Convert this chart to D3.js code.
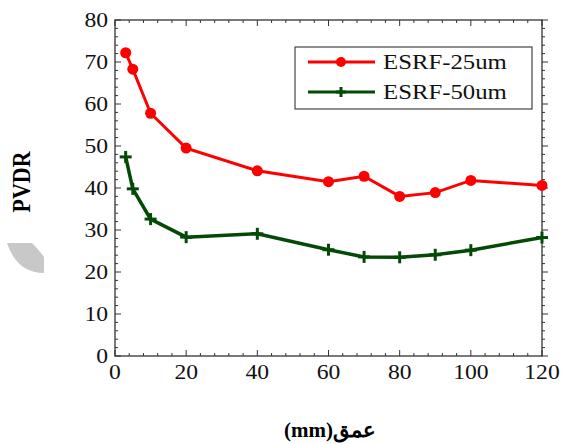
<!DOCTYPE html>
<html><head><meta charset="utf-8">
<script src="https://cdn.jsdelivr.net/npm/d3@7"></script>
<style>body{margin:0;background:#fff}</style>
</head><body>
<script>
const depths = [3, 5, 10, 20, 40, 60, 70, 80, 90, 100, 120];
const esrf25 = [72.2, 68.3, 57.8, 49.5, 44.1, 41.5, 42.8, 38.0, 38.9, 41.8, 40.6];
const esrf50 = [47.4, 39.8, 32.6, 28.3, 29.1, 25.3, 23.6, 23.5, 24.1, 25.2, 28.2];
const xTicks = [0, 20, 40, 60, 80, 100, 120];
const yTicks = [0, 10, 20, 30, 40, 50, 60, 70, 80];
const seriesNames = ["ESRF-25um", "ESRF-50um"];
const colors = ["#ff0000", "#034a06"];

const W = 563, H = 444;
const svg = d3.select("body").append("svg").attr("width", W).attr("height", H);
const x = d3.scaleLinear().domain([0, 120]).range([115, 542]);
const y = d3.scaleLinear().domain([0, 80]).range([356, 20]);
const font = "Liberation Serif";
const SX = 1.18;

// grey blob
svg.append("path").attr("d", "M7,243 L32,243 Q39,250 44,257 L44,273 Q17,273 7,243 Z").attr("fill", "#c8c8c8");

// minor ticks
const xMinor = d3.range(0, 121, 4);
const yMinor = d3.range(0, 81, 2);
const tk = svg.append("g").attr("stroke", "#333").attr("stroke-width", 1);
xMinor.forEach(v => {
  const maj = v % 20 === 0, L = maj ? 6 : 3;
  tk.append("line").attr("x1", x(v)).attr("x2", x(v)).attr("y1", y(0)).attr("y2", y(0) - L);
  tk.append("line").attr("x1", x(v)).attr("x2", x(v)).attr("y1", y(80)).attr("y2", y(80) + L);
});
yMinor.forEach(v => {
  const maj = v % 10 === 0, L = maj ? 6 : 3;
  tk.append("line").attr("y1", y(v)).attr("y2", y(v)).attr("x1", x(0)).attr("x2", x(0) + L);
  tk.append("line").attr("y1", y(v)).attr("y2", y(v)).attr("x1", x(120)).attr("x2", x(120) + L);
});
// frame
svg.append("rect").attr("x", x(0)).attr("y", y(80)).attr("width", x(120) - x(0)).attr("height", y(0) - y(80))
  .attr("fill", "none").attr("stroke", "#333").attr("stroke-width", 1.3);

// tick labels (horizontally stretched like the reference)
svg.append("g").selectAll("text").data(yTicks).join("text")
  .attr("transform", d => `translate(${x(0) - 7},${y(d) + 7}) scale(${SX},1)`).attr("text-anchor", "end")
  .attr("font-family", font).attr("font-size", 20).attr("fill", "#111").text(d => d);
svg.append("g").selectAll("text").data(xTicks).join("text")
  .attr("transform", d => `translate(${x(d)},${y(0) + 23}) scale(${SX},1)`).attr("text-anchor", "middle")
  .attr("font-family", font).attr("font-size", 20).attr("fill", "#111").text(d => d);

// axis titles
svg.append("text").attr("transform", `translate(30,182) scale(${SX},1) rotate(-90)`).attr("text-anchor", "middle")
  .attr("font-family", font).attr("font-size", 22).attr("font-weight", "bold").text("PVDR");
svg.append("text").attr("transform", `translate(330,437)`).attr("text-anchor", "middle")
  .attr("font-family", font).attr("font-size", 21).attr("font-weight", "bold").text("(mm)عمق");

const line = d3.line().x((d, i) => x(depths[i])).y(d => y(d));
// series 1
svg.append("path").datum(esrf25).attr("d", line).attr("fill", "none").attr("stroke", colors[0]).attr("stroke-width", 3);
svg.append("g").selectAll("circle").data(esrf25).join("circle")
  .attr("cx", (d, i) => x(depths[i])).attr("cy", d => y(d)).attr("r", 5.5).attr("fill", colors[0]);
// series 2
svg.append("path").datum(esrf50).attr("d", line).attr("fill", "none").attr("stroke", colors[1]).attr("stroke-width", 3.5);
const plus = (g, cx, cy, s) => {
  g.append("line").attr("x1", cx - s).attr("x2", cx + s).attr("y1", cy).attr("y2", cy);
  g.append("line").attr("x1", cx).attr("x2", cx).attr("y1", cy - s).attr("y2", cy + s);
};
const pg = svg.append("g").attr("stroke", colors[1]).attr("stroke-width", 3);
esrf50.forEach((d, i) => plus(pg, x(depths[i]), y(d), 6));

// legend
const lg = svg.append("g");
lg.append("rect").attr("x", 295).attr("y", 47).attr("width", 237).attr("height", 62)
  .attr("fill", "#fff").attr("stroke", "#444").attr("stroke-width", 1.2);
[0, 1].forEach(i => {
  const ly = 62 + i * 30;
  lg.append("line").attr("x1", 308).attr("x2", 375).attr("y1", ly).attr("y2", ly)
    .attr("stroke", colors[i]).attr("stroke-width", 3);
  if (i === 0) lg.append("circle").attr("cx", 341).attr("cy", ly).attr("r", 5).attr("fill", colors[0]);
  else { const g2 = lg.append("g").attr("stroke", colors[1]).attr("stroke-width", 3); plus(g2, 341, ly, 5); }
  lg.append("text").attr("transform", `translate(383,${ly + 7}) scale(${SX},1)`).attr("font-family", font).attr("font-size", 21)
    .attr("fill", "#111").text(seriesNames[i]);
});
</script>
</body></html>
